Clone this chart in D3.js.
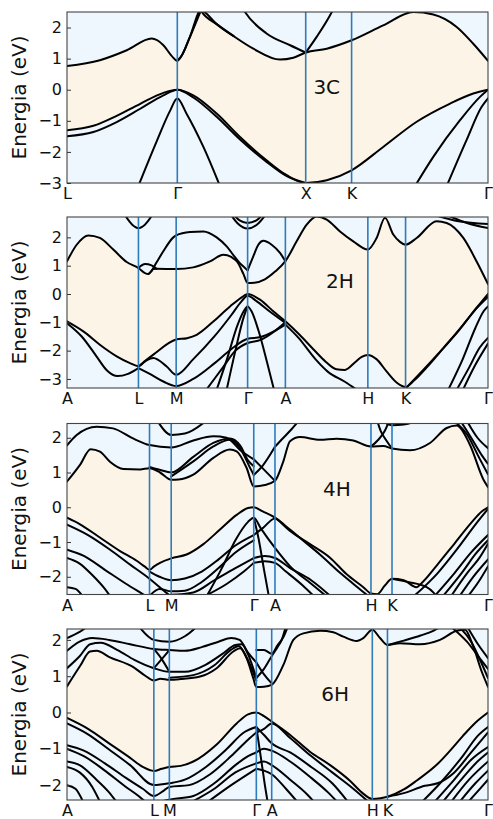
<!DOCTYPE html>
<html>
<head>
<meta charset="utf-8">
<script src="https://cdn.jsdelivr.net/npm/d3@7"></script>
<style>
  body { margin: 0; background: #ffffff; }
  svg { display: block; }
</style>
</head>
<body>
<svg id="chart" width="493" height="819"></svg>
<script>
// ---------------------------------------------------------------
// Band structures of SiC polytypes along high-symmetry paths.
// k is the normalised path coordinate (0..1); energies in eV.
// ---------------------------------------------------------------

// ----- 3C -----
const kTicks3C = [0, 0.262, 0.567, 0.676, 1];
const kLabels3C = ["L", "Γ", "X", "K", "Γ"];
const yDomain3C = [-3, 2.5];
const yTicks3C = [-3, -2, -1, 0, 1, 2];
const namePos3C = [0.617, 0.11];
const cbEdge3C = [[0,0.76],[0.078,0.95],[0.142,1.27],[0.201,1.645],[0.229,1.43],[0.249,1.08],[0.262,0.93],[0.273,1.11],[0.292,1.70],[0.318,2.55],[0.3555,2.11],[0.395,1.73],[0.4426,1.32],[0.506,0.97],[0.5376,1.03],[0.567,1.195],[0.617,1.32],[0.676,1.59],[0.751,2.07],[0.8227,2.50],[0.870,2.42],[0.9256,2.02],[0.965,1.48],[1,0.93]];
const vbEdge3C = [[0,-1.30],[0.0626,-1.16],[0.118,-0.84],[0.173,-0.46],[0.229,-0.10],[0.262,0],[0.300,-0.18],[0.3555,-0.766],[0.411,-1.52],[0.474,-2.27],[0.522,-2.75],[0.567,-3.0],[0.617,-2.91],[0.676,-2.59],[0.751,-1.84],[0.8306,-1.03],[0.91,-0.445],[0.965,-0.123],[1,0]];
const cbSteep3C = [[0.262,0.93],[0.273,1.11],[0.292,1.70],[0.318,2.55],[0.33,2.95]];
const cbFall3C = [[0.305,2.95],[0.318,2.55],[0.3555,2.11],[0.395,1.73]];
const cbXl3C = [[0.41,2.8],[0.4228,2.50],[0.474,1.81],[0.530,1.43],[0.567,1.195]];
const cbXr3C = [[0.567,1.195],[0.593,1.70],[0.629,2.50],[0.64,2.8]];
const vbLh3C = [[0,-1.495],[0.0626,-1.36],[0.118,-1.04],[0.173,-0.62],[0.229,-0.18],[0.262,0],[0.300,-0.25],[0.3555,-0.87],[0.411,-1.60],[0.474,-2.32],[0.522,-2.78],[0.567,-3.0]];
const vbSo3C = [[0.1694,-3.1],[0.213,-1.66],[0.2447,-0.68],[0.262,-0.284],[0.284,-0.77],[0.324,-1.84],[0.3634,-3.1]];
const vbHhEnd3C = [[0.8266,-3.1],[0.870,-2.16],[0.9335,-0.98],[0.981,-0.23],[1,0]];
const vbSoEnd3C = [[0.9018,-3.1],[0.949,-1.62],[0.985,-0.55],[1,-0.28]];
const bands3C = [cbSteep3C, cbFall3C, cbXl3C, cbXr3C, vbLh3C, vbSo3C, vbHhEnd3C, vbSoEnd3C];

// ----- 2H -----
const kTicks2H = [0, 0.1697, 0.2593, 0.4290, 0.5187, 0.7146, 0.8042, 1];
const kLabels2H = ["A", "L", "M", "Γ", "A", "H", "K", "Γ"];
const yDomain2H = [-3.32, 2.72];
const yTicks2H = [-3, -2, -1, 0, 1, 2];
const namePos2H = [0.648, 0.47];
const cbEdge2H = [[0,1.154],[0.023,1.74],[0.0507,2.07],[0.078,1.98],[0.110,1.57],[0.1417,1.13],[0.1697,0.92],[0.1853,0.74],[0.1932,0.705],[0.200,0.80],[0.205,0.88],[0.2129,0.89],[0.2593,0.88],[0.2998,0.94],[0.3397,1.15],[0.3713,1.39],[0.3911,1.30],[0.405,1.12],[0.419,0.71],[0.4290,0.39],[0.445,0.40],[0.47,0.52],[0.495,0.80],[0.5187,1.16],[0.5455,1.86],[0.5693,2.45],[0.593,2.74],[0.6168,2.63],[0.6485,2.21],[0.680,1.86],[0.7146,1.57],[0.7355,1.98],[0.7553,2.69],[0.775,2.10],[0.791,1.84],[0.8042,1.74],[0.8306,1.98],[0.878,2.57],[0.9018,2.51],[0.9414,1.98],[0.973,1.15],[1,0.35]];
const vbEdge2H = [[0,-0.966],[0.0388,-1.32],[0.078,-1.79],[0.118,-2.20],[0.1496,-2.44],[0.1697,-2.55],[0.185,-2.37],[0.2051,-2.14],[0.2593,-1.61],[0.285,-1.56],[0.308,-1.44],[0.3476,-0.97],[0.3872,-0.44],[0.4188,-0.08],[0.4290,0],[0.4584,-0.20],[0.490,-0.61],[0.5187,-0.966],[0.553,-1.45],[0.585,-1.95],[0.615,-2.40],[0.64,-2.66],[0.66,-2.68],[0.685,-2.40],[0.70,-2.22],[0.7146,-2.15],[0.735,-2.30],[0.76,-2.75],[0.785,-3.15],[0.8042,-3.28],[0.825,-3.05],[0.854,-2.6],[0.894,-1.91],[0.9414,-1.08],[0.975,-0.45],[1,0]];
const cbBl2H = [[0.1697,0.92],[0.1853,1.06],[0.2009,1.01],[0.2129,0.89]];
const cbA2H = [[0.1932,0.705],[0.200,0.80],[0.2129,1.12],[0.2288,1.51],[0.2526,2.0],[0.2593,2.07],[0.2922,2.19],[0.3238,2.21],[0.3555,2.00],[0.3793,1.68],[0.399,1.30],[0.41,1.10],[0.4228,0.92],[0.429,0.835]];
const cbBr2H = [[0.429,0.835],[0.4425,1.33],[0.4544,1.74],[0.4663,1.88],[0.4861,1.74],[0.5059,1.45],[0.5187,1.16]];
const cbL2H = [[0.135,2.85],[0.155,2.45],[0.1697,2.33],[0.185,2.45],[0.205,2.85]];
const cbG1_2H = [[0.393,2.85],[0.41,2.6],[0.429,2.51],[0.45,2.6],[0.467,2.85]];
const cbG2_2H = [[0.387,2.85],[0.405,2.5],[0.429,2.31],[0.455,2.5],[0.474,2.85]];
const cbEnd1_2H = [[0.87,2.8],[0.93,2.57],[1,2.47]];
const cbEnd2_2H = [[0.90,2.8],[0.95,2.51],[1,2.33]];
const vbAL2H = [[0,-1.03],[0.035,-1.5],[0.07,-2.2],[0.095,-2.7],[0.12,-2.9],[0.145,-2.82],[0.1697,-2.62]];
const vbP2H = [[0.1697,-2.56],[0.2051,-2.26],[0.2368,-2.56],[0.2593,-2.85],[0.30,-2.3],[0.35,-1.5],[0.39,-0.75],[0.415,-0.25],[0.429,-0.06],[0.45,-0.25],[0.48,-0.6],[0.5187,-1.02]];
const vbQ2H = [[0.1697,-2.62],[0.2,-2.85],[0.23,-3.1],[0.2593,-3.25],[0.30,-3.0],[0.35,-2.45],[0.39,-1.95],[0.429,-1.58],[0.46,-1.52],[0.49,-1.33],[0.5187,-1.08]];
const vbR2H = [[0.33,-3.4],[0.37,-2.6],[0.40,-2.0],[0.429,-1.73],[0.46,-1.62],[0.49,-1.35],[0.5187,-1.0]];
const vbSo2H = [[0.355,-3.4],[0.38,-2.3],[0.405,-1.1],[0.42,-0.6],[0.429,-0.44],[0.438,-0.6],[0.455,-1.3],[0.475,-2.4],[0.492,-3.4]];
const vbSo2_2H = [[0.379,-3.4],[0.40,-2.0],[0.42,-0.8],[0.429,-0.44]];
const vbAH2H = [[0.5187,-1.08],[0.55,-1.55],[0.59,-2.3],[0.62,-2.75],[0.66,-3.1],[0.69,-3.4]];
const vbEnd1_2H = [[0.80,-3.4],[0.87,-2.3],[0.93,-1.3],[0.97,-0.55],[1,-0.1]];
const vbEnd2_2H = [[0.905,-3.4],[0.94,-2.3],[0.97,-1.2],[0.99,-0.6],[1,-0.44]];
const vbEnd3_2H = [[0.925,-3.4],[0.955,-2.6],[0.98,-1.9],[1,-1.55]];
const vbEnd4_2H = [[0.94,-3.4],[0.97,-2.5],[1,-1.75]];
const bands2H = [cbBl2H, cbA2H, cbBr2H, cbL2H, cbG1_2H, cbG2_2H, cbEnd1_2H, cbEnd2_2H,
  vbAL2H, vbP2H, vbQ2H, vbR2H, vbSo2H, vbSo2_2H, vbAH2H, vbEnd1_2H, vbEnd2_2H, vbEnd3_2H, vbEnd4_2H];

// ----- 4H -----
const kTicks4H = [0, 0.196, 0.2475, 0.4436, 0.494, 0.722, 0.772, 1];
const kLabels4H = ["A", "L", "M", "Γ", "A", "H", "K", "Γ"];
const yDomain4H = [-2.51, 2.41];
const yTicks4H = [-2, -1, 0, 1, 2];
const namePos4H = [0.641, 0.53];
const cbEdge4H = [[0,0.74],[0.0309,1.22],[0.0562,1.67],[0.0784,1.60],[0.102,1.31],[0.134,1.10],[0.1734,1.09],[0.196,1.12],[0.2209,1.0],[0.2475,0.79],[0.265,0.80],[0.300,0.94],[0.3476,1.42],[0.387,1.66],[0.403,1.61],[0.4267,1.13],[0.4436,0.60],[0.47,0.64],[0.494,0.76],[0.5139,1.32],[0.5297,1.90],[0.5535,2.02],[0.601,1.94],[0.6405,1.97],[0.680,1.92],[0.722,1.75],[0.7514,1.76],[0.772,1.69],[0.8147,1.64],[0.8622,1.85],[0.902,2.28],[0.9256,2.35],[0.957,1.80],[0.989,0.80],[1,0.58]];
const vbEdge4H = [[0,-0.30],[0.031,-0.49],[0.078,-0.87],[0.126,-1.26],[0.1655,-1.54],[0.185,-1.71],[0.196,-1.80],[0.207,-1.70],[0.2209,-1.60],[0.2475,-1.47],[0.284,-1.36],[0.324,-1.06],[0.3634,-0.64],[0.403,-0.22],[0.43,-0.02],[0.4436,0],[0.465,-0.12],[0.494,-0.30],[0.5297,-0.68],[0.5772,-1.06],[0.6247,-1.45],[0.6643,-1.93],[0.7039,-2.30],[0.722,-2.48],[0.737,-2.5],[0.755,-2.25],[0.772,-2.06],[0.80,-2.1],[0.83,-2.3],[0.845,-2.15],[0.88,-1.65],[0.92,-1.05],[0.96,-0.45],[0.985,-0.12],[1,0]];
const c2_4H = [[0,1.78],[0.023,2.08],[0.0705,2.32],[0.1093,2.27],[0.1568,1.98],[0.196,1.79],[0.2475,1.72],[0.30,1.92],[0.3476,2.04],[0.379,2.0],[0.411,1.65],[0.4436,1.38]];
const c3_4H = [[0.2475,0.89],[0.300,1.32],[0.3476,1.75],[0.387,1.94],[0.411,1.70],[0.435,1.13],[0.4436,0.93]];
const c3b_4H = [[0.196,1.16],[0.22,1.08],[0.2475,1.0],[0.300,1.45],[0.3476,1.85],[0.387,1.98],[0.411,1.78],[0.43,1.35],[0.4436,1.18]];
const gaX1_4H = [[0.4436,0.93],[0.465,1.2],[0.494,1.74]];
const gaX2_4H = [[0.4436,1.38],[0.465,1.12],[0.494,0.76]];
const aUp4H = [[0.494,1.74],[0.51,1.95],[0.53,2.2],[0.55,2.48]];
const lm4H = [[0.215,2.48],[0.2475,2.08],[0.28,2.12],[0.33,2.48]];
const hk1_4H = [[0.722,1.75],[0.74,1.95],[0.755,2.2],[0.765,2.48]];
const hk2_4H = [[0.737,2.48],[0.745,2.2],[0.757,1.95],[0.772,1.69]];
const kTop4H = [[0.75,2.48],[0.772,2.36],[0.80,2.38],[0.83,2.48]];
const ge1_4H = [[0.92,2.48],[0.95,2.1],[0.98,1.4],[1,0.95]];
const ge2_4H = [[0.935,2.48],[0.96,2.0],[0.985,1.5],[1,1.25]];
const ge3_4H = [[0.95,2.48],[0.975,2.0],[1,1.7]];
const v2_4H = [[0,-0.5],[0.05,-0.8],[0.10,-1.2],[0.15,-1.65],[0.19,-2.0],[0.23,-2.4],[0.25,-2.6]];
const v3_4H = [[0,-1.22],[0.04,-1.4],[0.09,-1.8],[0.14,-2.2],[0.18,-2.5],[0.20,-2.65]];
const v4_4H = [[0,-1.46],[0.03,-1.62],[0.06,-1.95],[0.09,-2.35],[0.105,-2.6]];
const v5_4H = [[0,-2.3],[0.02,-2.35],[0.04,-2.6]];
const v6_4H = [[0.196,-1.85],[0.22,-2.0],[0.2475,-2.1],[0.28,-2.05],[0.32,-1.85],[0.36,-1.5],[0.40,-1.1],[0.4436,-0.8]];
const v7_4H = [[0.196,-2.55],[0.22,-2.35],[0.2475,-2.42],[0.28,-2.4],[0.32,-2.15],[0.36,-1.75],[0.40,-1.3],[0.4436,-0.95]];
const v8_4H = [[0.2475,-2.52],[0.30,-2.45],[0.35,-2.1],[0.40,-1.75],[0.4436,-1.46]];
const v9_4H = [[0.32,-2.6],[0.38,-2.2],[0.42,-1.85],[0.4436,-1.6]];
const v10_4H = [[0.33,-2.6],[0.37,-1.7],[0.40,-0.95],[0.43,-0.42],[0.4436,-0.3],[0.46,-0.6],[0.494,-1.17],[0.53,-1.7],[0.58,-2.2],[0.62,-2.6]];
const v11_4H = [[0.4436,-0.3],[0.455,-0.9],[0.468,-1.8],[0.48,-2.6]];
const v12_4H = [[0.4436,-0.8],[0.465,-0.6],[0.494,-0.32],[0.52,-0.55],[0.56,-0.95],[0.60,-1.35],[0.65,-1.9],[0.70,-2.4],[0.72,-2.6]];
const v13_4H = [[0.4436,-1.46],[0.47,-1.4],[0.494,-1.46],[0.53,-1.75],[0.58,-2.1],[0.63,-2.6]];
const v14_4H = [[0.4436,-1.6],[0.47,-1.55],[0.494,-1.6],[0.52,-1.85],[0.56,-2.25],[0.59,-2.6]];
const kg1_4H = [[0.772,-2.06],[0.81,-2.15],[0.8544,-2.3],[0.87,-2.45],[0.88,-2.6]];
const kg2_4H = [[0.82,-2.6],[0.88,-1.9],[0.93,-1.15],[0.97,-0.5],[1,-0.05]];
const kg3_4H = [[0.87,-2.6],[0.92,-1.9],[0.96,-1.3],[1,-0.8]];
const kg4_4H = [[0.89,-2.6],[0.94,-1.85],[0.97,-1.35],[1,-0.95]];
const kg5_4H = [[0.91,-2.6],[0.95,-1.9],[0.98,-1.45],[1,-1.05]];
const kg6_4H = [[0.93,-2.6],[0.965,-2.0],[1,-1.5]];
const kg7_4H = [[0.95,-2.6],[0.98,-2.1],[1,-1.7]];
const bands4H = [c2_4H, c3_4H, c3b_4H, gaX1_4H, gaX2_4H, aUp4H, lm4H, hk1_4H, hk2_4H, kTop4H, ge1_4H, ge2_4H, ge3_4H,
  v2_4H, v3_4H, v4_4H, v5_4H, v6_4H, v7_4H, v8_4H, v9_4H, v10_4H, v11_4H, v12_4H, v13_4H, v14_4H,
  kg1_4H, kg2_4H, kg3_4H, kg4_4H, kg5_4H, kg6_4H, kg7_4H];

// ----- 6H -----
const kTicks6H = [0, 0.2063, 0.2431, 0.4497, 0.4862, 0.7252, 0.7612, 1];
const kLabels6H = ["A", "L", "M", "Γ", "A", "H", "K", "Γ"];
const yDomain6H = [-2.41, 2.30];
const yTicks6H = [-2, -1, 0, 1, 2];
const namePos6H = [0.637, 0.51];
const cbEdge6H = [[0,0.72],[0.031,1.28],[0.0546,1.68],[0.0705,1.70],[0.102,1.52],[0.1576,1.25],[0.185,1.02],[0.2063,0.88],[0.222,0.93],[0.2431,0.90],[0.27,0.92],[0.316,0.99],[0.3555,1.22],[0.395,1.68],[0.411,1.77],[0.4268,1.49],[0.4426,0.94],[0.4497,0.70],[0.468,0.71],[0.4862,0.76],[0.514,1.31],[0.5376,2.0],[0.5614,2.18],[0.601,2.25],[0.6326,2.21],[0.6564,2.09],[0.688,1.97],[0.7039,2.05],[0.7252,2.28],[0.7435,2.05],[0.7612,1.86],[0.791,1.91],[0.8385,1.88],[0.886,2.0],[0.9256,2.25],[0.9454,2.28],[0.965,1.82],[0.985,1.13],[1,0.71]];
const vbEdge6H = [[0,-0.15],[0.05,-0.45],[0.10,-0.85],[0.15,-1.25],[0.18,-1.5],[0.2063,-1.61],[0.225,-1.55],[0.2431,-1.50],[0.27,-1.47],[0.30,-1.35],[0.3555,-0.88],[0.403,-0.30],[0.43,-0.05],[0.4497,0],[0.468,-0.1],[0.4862,-0.25],[0.53,-0.62],[0.577,-1.08],[0.625,-1.45],[0.672,-1.88],[0.70,-2.2],[0.7252,-2.38],[0.745,-2.36],[0.7612,-2.32],[0.80,-2.12],[0.83,-1.88],[0.88,-1.42],[0.91,-1.05],[0.94,-0.65],[0.97,-0.28],[1,0]];
const u1_6H = [[0,1.22],[0.03,1.55],[0.055,1.88],[0.08,1.92],[0.12,1.72],[0.16,1.45],[0.2063,1.22],[0.2431,1.12],[0.28,1.12],[0.33,1.32],[0.37,1.62],[0.40,1.86],[0.415,1.88],[0.43,1.6],[0.4497,0.95]];
const u1b_6H = [[0.2431,0.96],[0.30,1.03],[0.35,1.3],[0.39,1.73],[0.408,1.83],[0.425,1.56],[0.4497,0.88]];
const u2_6H = [[0,1.7],[0.03,1.95],[0.06,2.05],[0.10,2.0],[0.15,1.88],[0.2063,1.75],[0.2431,1.72],[0.28,1.7],[0.32,1.8],[0.36,1.95],[0.39,2.05],[0.41,2.0],[0.43,1.65],[0.4497,1.38]];
const u3_6H = [[0,2.05],[0.03,2.22],[0.05,2.38]];
const u4_6H = [[0.17,2.38],[0.2063,2.0],[0.2431,1.95],[0.28,2.1],[0.31,2.38]];
const x1_6H = [[0.2063,1.22],[0.225,1.47],[0.2431,1.72]];
const x2_6H = [[0.2063,1.75],[0.225,1.47],[0.2431,1.12]];
const ga1_6H = [[0.4497,0.95],[0.468,1.2],[0.4862,1.55],[0.50,1.8],[0.51,2.0],[0.52,2.38]];
const ga2_6H = [[0.4497,1.38],[0.468,1.05],[0.4862,0.8]];
const ga3_6H = [[0.4497,1.72],[0.468,1.72],[0.4862,1.62],[0.50,1.85],[0.515,2.1],[0.525,2.38]];
const k1_6H = [[0.7612,1.86],[0.80,1.98],[0.84,2.12],[0.87,2.25],[0.89,2.38]];
const ge1_6H = [[0.93,2.38],[0.96,1.95],[0.985,1.35],[1,0.95]];
const ge2_6H = [[0.91,2.38],[0.95,1.95],[0.98,1.5],[1,1.2]];
const ge3_6H = [[0.95,2.38],[0.975,1.9],[1,1.5]];
const a1_6H = [[0,-0.3],[0.05,-0.6],[0.10,-1.02],[0.15,-1.45],[0.2063,-2.0],[0.2431,-1.95],[0.28,-1.85],[0.33,-1.5],[0.38,-1.0],[0.42,-0.55],[0.4497,-0.4]];
const a2_6H = [[0,-0.9],[0.04,-1.05],[0.09,-1.4],[0.14,-1.8],[0.18,-2.1],[0.2063,-2.3],[0.23,-2.15],[0.2431,-2.05],[0.29,-2.0],[0.34,-1.7],[0.39,-1.2],[0.43,-0.75],[0.4497,-0.55]];
const a3_6H = [[0,-1.0],[0.04,-1.2],[0.09,-1.6],[0.14,-2.05],[0.17,-2.3],[0.19,-2.5]];
const a4_6H = [[0,-1.35],[0.03,-1.45],[0.07,-1.85],[0.10,-2.2],[0.12,-2.5]];
const a5_6H = [[0,-1.5],[0.03,-1.65],[0.06,-2.05],[0.08,-2.5]];
const a6_6H = [[0,-2.0],[0.02,-2.1],[0.04,-2.5]];
const m1_6H = [[0.2063,-2.5],[0.2431,-2.4],[0.30,-2.3],[0.35,-1.95],[0.40,-1.45],[0.43,-1.2],[0.4497,-1.1]];
const m2_6H = [[0.29,-2.5],[0.35,-2.1],[0.40,-1.65],[0.4497,-1.4]];
const m3_6H = [[0.33,-2.5],[0.39,-2.0],[0.4497,-1.55]];
const gv1_6H = [[0.4497,-0.55],[0.468,-0.45],[0.4862,-0.3],[0.53,-0.7],[0.58,-1.2],[0.63,-1.65],[0.68,-2.1],[0.72,-2.5]];
const gv2_6H = [[0.4497,-0.4],[0.468,-0.62],[0.4862,-0.85],[0.53,-1.1],[0.58,-1.5],[0.63,-1.95],[0.67,-2.5]];
const gv3_6H = [[0.4497,-1.1],[0.468,-1.0],[0.4862,-1.05],[0.53,-1.35],[0.58,-1.8],[0.62,-2.2],[0.645,-2.5]];
const gv4_6H = [[0.4497,-1.4],[0.468,-1.35],[0.4862,-1.45],[0.53,-1.85],[0.57,-2.25],[0.59,-2.5]];
const gv5_6H = [[0.4497,-1.55],[0.468,-1.6],[0.4862,-1.7],[0.52,-2.1],[0.55,-2.5]];
const gvs_6H = [[0.4497,-0.4],[0.46,-1.2],[0.47,-2.0],[0.477,-2.5]];
const kg1_6H = [[0.7612,-2.32],[0.80,-2.22],[0.85,-2.02],[0.88,-1.95],[0.92,-1.65],[0.96,-1.1],[1,-0.55]];
const kg2_6H = [[0.84,-2.5],[0.89,-1.9],[0.94,-1.2],[0.975,-0.65],[1,-0.4]];
const kg3_6H = [[0.87,-2.5],[0.92,-1.85],[0.96,-1.3],[1,-0.95]];
const kg4_6H = [[0.89,-2.5],[0.94,-1.8],[0.975,-1.35],[1,-1.1]];
const kg5_6H = [[0.91,-2.5],[0.955,-1.85],[1,-1.35]];
const kg6_6H = [[0.93,-2.5],[0.97,-1.95],[1,-1.6]];
const kg7_6H = [[0.95,-2.5],[0.985,-2.05],[1,-1.85]];
const bands6H = [u1_6H, u1b_6H, u2_6H, u3_6H, u4_6H, x1_6H, x2_6H, ga1_6H, ga2_6H, ga3_6H, k1_6H, ge1_6H, ge2_6H, ge3_6H,
  a1_6H, a2_6H, a3_6H, a4_6H, a5_6H, a6_6H, m1_6H, m2_6H, m3_6H,
  gv1_6H, gv2_6H, gv3_6H, gv4_6H, gv5_6H, gvs_6H,
  kg1_6H, kg2_6H, kg3_6H, kg4_6H, kg5_6H, kg6_6H, kg7_6H];

// ----- panel table -----
const panelList = [
  { name: "3C", kTicks: kTicks3C, kLabels: kLabels3C, yDomain: yDomain3C, yTicks: yTicks3C, cbEdge: cbEdge3C, vbEdge: vbEdge3C, bands: bands3C, namePos: namePos3C },
  { name: "2H", kTicks: kTicks2H, kLabels: kLabels2H, yDomain: yDomain2H, yTicks: yTicks2H, cbEdge: cbEdge2H, vbEdge: vbEdge2H, bands: bands2H, namePos: namePos2H },
  { name: "4H", kTicks: kTicks4H, kLabels: kLabels4H, yDomain: yDomain4H, yTicks: yTicks4H, cbEdge: cbEdge4H, vbEdge: vbEdge4H, bands: bands4H, namePos: namePos4H },
  { name: "6H", kTicks: kTicks6H, kLabels: kLabels6H, yDomain: yDomain6H, yTicks: yTicks6H, cbEdge: cbEdge6H, vbEdge: vbEdge6H, bands: bands6H, namePos: namePos6H }
];

// ----- layout & style -----
const plotLeft = 67, plotRight = 488, plotHeight = 171;
const panelTops = [12, 217, 423.5, 629];
const bgColor = "#eef6fe";
const gapColor = "#fcf4e6";
const kLineColor = "#2e7bbb";
const fontFamily = "'DejaVu Sans', sans-serif";

const svg = d3.select("#chart");

panelList.forEach((p, i) => {
  const top = panelTops[i];
  const bottom = top + plotHeight;
  const x = d3.scaleLinear().domain([0, 1]).range([plotLeft, plotRight]);
  const y = d3.scaleLinear().domain(p.yDomain).range([bottom, top]);

  const clipId = "plot-clip-" + i;
  svg.append("clipPath").attr("id", clipId)
    .append("rect")
    .attr("x", plotLeft).attr("y", top)
    .attr("width", plotRight - plotLeft).attr("height", plotHeight);

  const g = svg.append("g");
  const body = g.append("g").attr("clip-path", `url(#${clipId})`);

  // background
  body.append("rect")
    .attr("x", plotLeft).attr("y", top)
    .attr("width", plotRight - plotLeft).attr("height", plotHeight)
    .attr("fill", bgColor);

  // band gap: fill under conduction edge, then cover under valence edge
  const areaBelow = d3.area()
    .x(d => x(d[0])).y0(bottom).y1(d => y(d[1]))
    .curve(d3.curveMonotoneX);
  body.append("path").datum(p.cbEdge).attr("d", areaBelow).attr("fill", gapColor);
  body.append("path").datum(p.vbEdge).attr("d", areaBelow).attr("fill", bgColor);

  // bands
  const line = d3.line()
    .x(d => x(d[0])).y(d => y(d[1]))
    .curve(d3.curveMonotoneX);
  body.selectAll("path.band")
    .data(p.bands.concat([p.cbEdge, p.vbEdge]))
    .join("path")
    .attr("class", "band")
    .attr("d", line)
    .attr("fill", "none")
    .attr("stroke", "#000")
    .attr("stroke-width", 2)
    .attr("stroke-linejoin", "round")
    .attr("stroke-linecap", "round");

  // high-symmetry lines
  body.selectAll("line.kline")
    .data(p.kTicks.slice(1, -1))
    .join("line")
    .attr("class", "kline")
    .attr("x1", d => x(d)).attr("x2", d => x(d))
    .attr("y1", top).attr("y2", bottom)
    .attr("stroke", kLineColor)
    .attr("stroke-width", 1.6);

  // polytype name
  g.append("text")
    .attr("x", x(p.namePos[0])).attr("y", y(p.namePos[1]))
    .attr("dy", "0.36em")
    .attr("text-anchor", "middle")
    .attr("font-family", fontFamily)
    .attr("font-size", 20)
    .attr("fill", "#111")
    .text(p.name);

  // frame
  g.append("rect")
    .attr("x", plotLeft).attr("y", top)
    .attr("width", plotRight - plotLeft).attr("height", plotHeight)
    .attr("fill", "none").attr("stroke", "#444").attr("stroke-width", 1.1);

  // y axis (inward ticks)
  const yAxis = d3.axisLeft(y)
    .tickValues(p.yTicks)
    .tickFormat(d3.format("d"))
    .tickSize(-4)
    .tickPadding(5);
  const ya = g.append("g").attr("transform", `translate(${plotLeft},0)`).call(yAxis);
  ya.select(".domain").remove();
  ya.selectAll(".tick line").attr("stroke", "#333");
  ya.selectAll(".tick text")
    .attr("font-family", fontFamily).attr("font-size", 16).attr("fill", "#111");

  // x axis labels at the high-symmetry points
  const xAxis = d3.axisBottom(x)
    .tickValues(p.kTicks)
    .tickFormat((d, j) => p.kLabels[j])
    .tickSize(0)
    .tickPadding(5);
  const xa = g.append("g").attr("transform", `translate(0,${bottom})`).call(xAxis);
  xa.select(".domain").remove();
  xa.selectAll(".tick text")
    .attr("font-family", fontFamily).attr("font-size", 16).attr("fill", "#111");

  // axis title
  g.append("text")
    .attr("transform", `translate(26,${(top + bottom) / 2}) rotate(-90)`)
    .attr("text-anchor", "middle")
    .attr("font-family", fontFamily)
    .attr("font-size", 20)
    .attr("fill", "#111")
    .text("Energia (eV)");
});
</script>
</body>
</html>
